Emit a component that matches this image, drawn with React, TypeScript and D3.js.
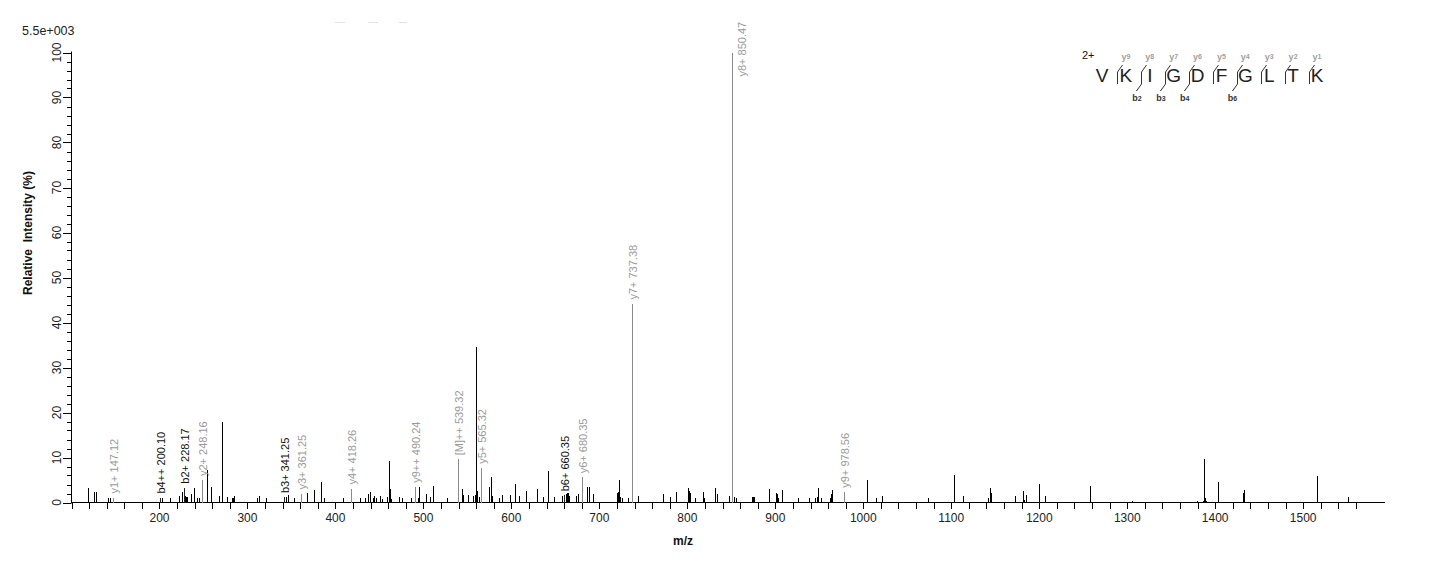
import { useEffect } from "react";
import * as d3 from "d3";

// unannotated peaks: m/z and relative intensity (%)
const peakMz = [
  119.1, 125.9, 127.8, 141.9, 143.8, 203.2, 212.0, 222.5, 225.2, 229.0, 230.0, 231.0, 235.8, 239.2,
  242.6, 245.3, 253.7, 258.2, 268.0, 270.7, 276.4, 282.8, 283.6, 285.0, 310.5, 313.1, 320.7, 343.4,
  346.5, 353.3, 367.3, 376.0, 384.0, 387.0, 409.0, 428.3, 433.2, 436.7, 439.3, 442.3, 444.2, 446.1,
  450.6, 452.9, 458.2, 461.2, 462.0, 463.5, 471.9, 475.3, 485.5, 494.2, 495.3, 502.4, 507.3, 511.2,
  526.3, 544.2, 545.5, 551.0, 556.0, 558.3, 560.1, 561.3, 562.8, 574.9, 576.5, 578.0, 585.5, 589.0,
  598.7, 603.7, 609.0, 617.0, 629.4, 635.6, 641.2, 648.8, 657.9, 662.0, 663.2, 664.4, 665.5, 673.1,
  676.1, 686.3, 687.8, 693.1, 719.6, 721.5, 722.7, 723.8, 726.0, 732.9, 744.3, 772.7, 780.6, 787.4,
  801.1, 802.2, 803.3, 809.0, 818.1, 819.3, 831.8, 834.0, 846.8, 851.2, 852.6, 855.0, 873.1, 874.2,
  876.1, 893.2, 900.4, 901.1, 902.2, 903.4, 907.9, 926.1, 938.6, 945.4, 947.4, 948.8, 952.2, 961.8,
  963.6, 964.8, 1004.5, 1014.7, 1021.6, 1073.9, 1103.4, 1113.6, 1142.0, 1144.0, 1145.1, 1172.8,
  1181.9, 1183.0, 1185.0, 1200.0, 1206.8, 1258.0, 1305.7, 1379.6, 1386.4, 1387.6, 1388.7, 1389.8,
  1403.5, 1431.9, 1433.1, 1516.0, 1551.3,
];
const peakInt = [
  3.3, 2.4, 2.4, 1.0, 1.0, 0.9, 1.1, 1.4, 2.4, 1.4, 1.2, 1.2, 1.9, 3.2,
  0.9, 0.9, 7.2, 3.4, 1.4, 17.8, 1.3, 0.9, 1.0, 1.4, 0.9, 1.4, 1.1, 1.2,
  1.6, 0.9, 2.1, 2.7, 4.5, 0.9, 0.9, 1.1, 0.9, 1.9, 2.4, 0.9, 1.5, 1.1,
  1.5, 0.7, 1.2, 9.2, 3.1, 0.7, 1.2, 0.9, 0.9, 1.1, 3.5, 2.0, 1.3, 3.6,
  1.0, 3.1, 1.7, 1.6, 1.4, 1.7, 34.6, 2.5, 1.3, 3.5, 5.7, 1.5, 1.1, 1.7,
  1.6, 4.1, 1.4, 2.5, 3.0, 1.3, 7.0, 1.3, 1.5, 2.0, 2.2, 2.1, 1.5, 1.5,
  1.8, 3.4, 3.4, 1.8, 2.1, 2.4, 5.1, 1.3, 1.1, 1.1, 1.4, 1.8, 1.3, 2.3,
  3.2, 2.5, 2.1, 1.1, 2.3, 0.9, 3.2, 1.8, 1.4, 7.9, 1.3, 1.1, 1.3, 1.3,
  1.3, 3.1, 1.2, 2.2, 1.8, 1.1, 2.7, 1.1, 1.0, 1.1, 1.3, 3.3, 1.0, 1.1,
  1.8, 2.7, 5.0, 1.0, 1.4, 1.0, 6.1, 1.4, 1.0, 3.2, 2.1, 1.4,
  2.5, 0.6, 1.6, 4.1, 1.4, 3.6, 0.4, 0.4, 0.4, 9.6, 1.0, 0.4,
  4.5, 2.1, 2.7, 5.9, 1.3,
];

// annotated fragment ions
const ionMz = [147.12, 200.1, 228.17, 248.16, 341.25, 361.25, 418.26, 490.24, 539.32, 565.32, 660.35, 680.35, 737.38, 850.47, 978.56];
const ionInt = [1.1, 1.1, 3.3, 5.0, 1.2, 2.0, 3.1, 3.5, 9.6, 7.7, 1.6, 5.6, 44.2, 100, 2.4];
const ionLabels = [
  "y1+ 147.12", "b4++ 200.10", "b2+ 228.17", "y2+ 248.16", "b3+ 341.25", "y3+ 361.25", "y4+ 418.26",
  "y9++ 490.24", "[M]++ 539.32", "y5+ 565.32", "b6+ 660.35", "y6+ 680.35", "y7+ 737.38", "y8+ 850.47", "y9+ 978.56",
];
const ionKinds = ["y", "b", "b", "y", "b", "y", "y", "y", "y", "y", "b", "y", "y", "y", "y"];

// peptide sequence and fragment markers
const residues = ["V", "K", "I", "G", "D", "F", "G", "L", "T", "K"];
const yBreaks = [1, 2, 3, 4, 5, 6, 7, 8, 9]; // cut before residue i
const bBreaks = [2, 3, 4, 6];

const xTicks = d3.range(100, 1561, 20);
const xLabelTicks = d3.range(200, 1501, 100);
const yMinor = d3.range(0, 101, 2);
const yMajor = d3.range(0, 101, 10);

const W = 1436;
const H = 562;
const FONT = "'Liberation Sans', Arial, sans-serif";

export default function App() {
  useEffect(() => {
    document.body.style.margin = "0";
  }, []);

  const x = d3.scaleLinear().domain([100, 1593]).range([71.5, 1385]);
  const y = d3.scaleLinear().domain([0, 100]).range([502.5, 52.5]);
  const seqX = d3.scalePoint<number>().domain(d3.range(residues.length)).range([1102, 1317]);
  const px = (v: number) => Math.round(x(v)) + 0.5;

  return (
    <svg width={W} height={H} style={{ display: "block", background: "#fff" }} fontFamily={FONT}>
      {/* faint marks at the top */}
      <g stroke="#e2e2e2" strokeWidth={1}>
        <line x1={335} x2={345} y1={22.5} y2={22.5} />
        <line x1={368} x2={378} y1={22.5} y2={22.5} />
        <line x1={399} x2={407} y1={22.5} y2={22.5} />
      </g>

      <text x={22} y={35} fontSize={12.5} fill="#222">5.5e+003</text>

      {/* y axis */}
      <line x1={71.5} x2={71.5} y1={y(100) - 1} y2={y(0)} stroke="#000" />
      {yMinor.map((t) => (
        <line key={"ym" + t} x1={t % 10 === 0 ? 63 : 67} x2={71.5} y1={Math.round(y(t)) + 0.5} y2={Math.round(y(t)) + 0.5} stroke="#000" />
      ))}
      {yMajor.map((t) => (
        <text key={"yl" + t} transform={`translate(57,${y(t)}) rotate(-90)`} textAnchor="middle" dy="0.35em" fontSize={12} fill="#222">
          {t}
        </text>
      ))}
      <text transform="translate(28,233) rotate(-90)" textAnchor="middle" dy="0.35em" fontSize={12} fontWeight="bold" fill="#111" style={{ whiteSpace: "pre" }}>
        {"Relative  Intensity (%)"}
      </text>

      {/* x axis */}
      <line x1={71} x2={1385} y1={502.5} y2={502.5} stroke="#000" />
      {xTicks.map((t) => (
        <line key={"xt" + t} x1={px(t)} x2={px(t)} y1={502.5} y2={509} stroke="#000" />
      ))}
      {xLabelTicks.map((t) => (
        <text key={"xl" + t} x={x(t)} y={522} textAnchor="middle" fontSize={12} fill="#222">
          {t}
        </text>
      ))}
      <text x={683} y={545} textAnchor="middle" fontSize={12} fontWeight="bold" fill="#111">m/z</text>

      {/* peaks */}
      <g stroke="#000" strokeWidth={1} shapeRendering="crispEdges">
        {peakMz.map((m, i) => (
          <line key={"p" + i} x1={px(m)} x2={px(m)} y1={y(0)} y2={y(peakInt[i])} />
        ))}
      </g>
      <g strokeWidth={1} shapeRendering="crispEdges">
        {ionMz.map((m, i) => (
          <line key={"i" + i} x1={px(m)} x2={px(m)} y1={y(0)} y2={y(ionInt[i])} stroke={ionKinds[i] === "b" ? "#222" : "#8a8a8a"} />
        ))}
      </g>
      {ionMz.map((m, i) => {
        const top = y(ionInt[i]);
        const len = ionLabels[i].length * 5.6;
        const clipped = top - 4 - len < 15;
        const lx = clipped ? px(m) + 10 : px(m) + 1;
        const ly = clipped ? top + 24 : top - 4;
        return (
          <text
            key={"l" + i}
            transform={`translate(${lx},${ly}) rotate(-90)`}
            dy="0.35em"
            fontSize={11}
            fill={ionKinds[i] === "b" ? "#111" : "#9a9a9a"}
          >
            {ionLabels[i]}
          </text>
        );
      })}

      {/* peptide sequence */}
      <text x={1082} y={59} fontSize={11} fill="#111">2+</text>
      {residues.map((r, i) => (
        <text key={"r" + i} x={seqX(i)} y={82} textAnchor="middle" fontSize={19} fill="#222">
          {r}
        </text>
      ))}
      <g stroke="#333" strokeWidth={1} fill="none">
        {yBreaks.map((k) => {
          const bx = Math.round(seqX(k)! - 8.5) + 0.5;
          return <path key={"yb" + k} d={`M${bx},84 L${bx},72 L${bx + 5},65`} />;
        })}
        {bBreaks.map((k) => {
          const bx = Math.round(seqX(k)! - 8.5) + 0.5;
          return <path key={"bb" + k} d={`M${bx},84 L${bx - 5},91`} />;
        })}
      </g>
      {yBreaks.map((k) => {
        const bx = seqX(k)! - 8.5;
        return (
          <text key={"yt" + k} x={bx + 4} y={60} fontSize={9} fill="#a0a0a0" fontWeight="bold">
            y<tspan fontSize={7} dy={-1}>{residues.length - k}</tspan>
          </text>
        );
      })}
      {bBreaks.map((k) => {
        const bx = seqX(k)! - 8.5;
        return (
          <text key={"bt" + k} x={bx - 9} y={101} fontSize={9} fill="#333" fontWeight="bold">
            b<tspan fontSize={7}>{k}</tspan>
          </text>
        );
      })}
    </svg>
  );
}
